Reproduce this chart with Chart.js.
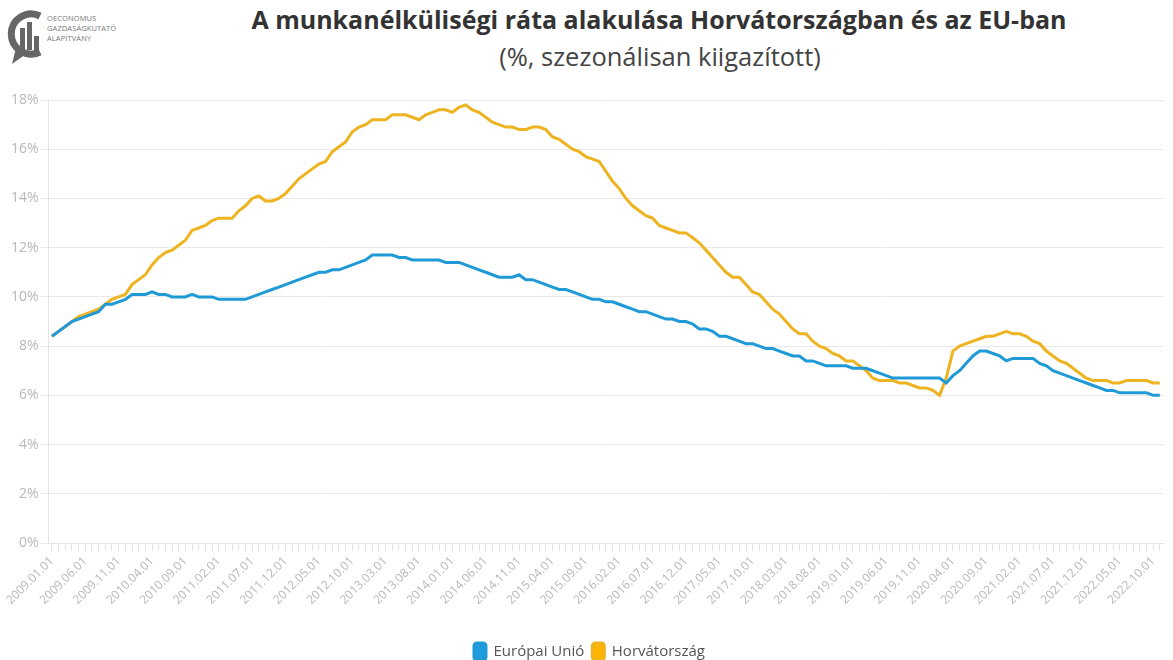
<!DOCTYPE html>
<html>
<head>
<meta charset="utf-8">
<script src="https://cdn.jsdelivr.net/npm/chart.js@4"></script>
<style>
  html, body { margin: 0; padding: 0; background: #fff; }
  body { width: 1173px; height: 660px; position: relative; overflow: hidden; font-family: "Open Sans", sans-serif; }
  .logo { position: absolute; left: 6px; top: 6px; width: 140px; height: 60px; }
  .logo-text { position: absolute; left: 47px; top: 13px; font-size: 7.5px; line-height: 10px; color: #777; letter-spacing: 0.1px; }
  .title { position: absolute; left: 0; width: 1318px; top: 2px; text-align: center; font-weight: 700; font-size: 25px; color: #333; white-space: nowrap; }
  .subtitle { position: absolute; left: 0; width: 1320px; top: 39px; text-align: center; font-size: 25.5px; color: #444; white-space: nowrap; }
  .wrap { position: absolute; left: 0; top: 85px; width: 1173px; height: 585px; }
</style>
</head>
<body>
<svg class="logo" viewBox="0 0 140 60">
  <path d="M34 10 A20 20 0 1 0 34 46" fill="none" stroke="#666" stroke-width="7"/>
  <path d="M10 42 L6 58 L20 48 Z" fill="#666"/>
  <rect x="14" y="22" width="5" height="22" fill="#666"/>
  <rect x="21" y="16" width="5" height="28" fill="#666"/>
  <rect x="28" y="30" width="5" height="14" fill="#666"/>
</svg>
<div class="logo-text">OECONOMUS<br>GAZDASÁGKUTATÓ<br>ALAPÍTVÁNY</div>
<div class="title">A munkanélküliségi ráta alakulása Horvátországban és az EU-ban</div>
<div class="subtitle">(%, szezonálisan kiigazított)</div>
<div class="wrap"><canvas id="myChart"></canvas></div>
<script>
// Hónapok: 2009.01 - 2022.11
const startYear = 2009;
const monthCount = 167;
const months = [];
for (let i = 0; i < monthCount; i++) {
    const y = startYear + Math.floor(i / 12);
    const m = (i % 12) + 1;
    months.push(y + '.' + (m < 10 ? '0' + m : m) + '.01');
}

const seriesNames = ['Európai Unió', 'Horvátország'];

// Európai Unió (%)
const euRate = [
    8.4, 8.6, 8.8, 9.0, 9.1, 9.2, 9.3, 9.4, 9.7, 9.7, 9.8, 9.9,
    10.1, 10.1, 10.1, 10.2, 10.1, 10.1, 10.0, 10.0, 10.0, 10.1, 10.0, 10.0,
    10.0, 9.9, 9.9, 9.9, 9.9, 9.9, 10.0, 10.1, 10.2, 10.3, 10.4, 10.5,
    10.6, 10.7, 10.8, 10.9, 11.0, 11.0, 11.1, 11.1, 11.2, 11.3, 11.4, 11.5,
    11.7, 11.7, 11.7, 11.7, 11.6, 11.6, 11.5, 11.5, 11.5, 11.5, 11.5, 11.4,
    11.4, 11.4, 11.3, 11.2, 11.1, 11.0, 10.9, 10.8, 10.8, 10.8, 10.9, 10.7,
    10.7, 10.6, 10.5, 10.4, 10.3, 10.3, 10.2, 10.1, 10.0, 9.9, 9.9, 9.8,
    9.8, 9.7, 9.6, 9.5, 9.4, 9.4, 9.3, 9.2, 9.1, 9.1, 9.0, 9.0,
    8.9, 8.7, 8.7, 8.6, 8.4, 8.4, 8.3, 8.2, 8.1, 8.1, 8.0, 7.9,
    7.9, 7.8, 7.7, 7.6, 7.6, 7.4, 7.4, 7.3, 7.2, 7.2, 7.2, 7.2,
    7.1, 7.1, 7.1, 7.0, 6.9, 6.8, 6.7, 6.7, 6.7, 6.7, 6.7, 6.7,
    6.7, 6.7, 6.5, 6.8, 7.0, 7.3, 7.6, 7.8, 7.8, 7.7, 7.6, 7.4,
    7.5, 7.5, 7.5, 7.5, 7.3, 7.2, 7.0, 6.9, 6.8, 6.7, 6.6, 6.5,
    6.4, 6.3, 6.2, 6.2, 6.1, 6.1, 6.1, 6.1, 6.1, 6.0, 6.0
];

// Horvátország (%)
const hrRate = [
    8.4, 8.6, 8.8, 9.0, 9.2, 9.3, 9.4, 9.5, 9.7, 9.9, 10.0, 10.1,
    10.5, 10.7, 10.9, 11.3, 11.6, 11.8, 11.9, 12.1, 12.3, 12.7, 12.8, 12.9,
    13.1, 13.2, 13.2, 13.2, 13.5, 13.7, 14.0, 14.1, 13.9, 13.9, 14.0, 14.2,
    14.5, 14.8, 15.0, 15.2, 15.4, 15.5, 15.9, 16.1, 16.3, 16.7, 16.9, 17.0,
    17.2, 17.2, 17.2, 17.4, 17.4, 17.4, 17.3, 17.2, 17.4, 17.5, 17.6, 17.6,
    17.5, 17.7, 17.8, 17.6, 17.5, 17.3, 17.1, 17.0, 16.9, 16.9, 16.8, 16.8,
    16.9, 16.9, 16.8, 16.5, 16.4, 16.2, 16.0, 15.9, 15.7, 15.6, 15.5, 15.1,
    14.7, 14.4, 14.0, 13.7, 13.5, 13.3, 13.2, 12.9, 12.8, 12.7, 12.6, 12.6,
    12.4, 12.2, 11.9, 11.6, 11.3, 11.0, 10.8, 10.8, 10.5, 10.2, 10.1, 9.8,
    9.5, 9.3, 9.0, 8.7, 8.5, 8.5, 8.2, 8.0, 7.9, 7.7, 7.6, 7.4,
    7.4, 7.2, 7.0, 6.7, 6.6, 6.6, 6.6, 6.5, 6.5, 6.4, 6.3, 6.3,
    6.2, 6.0, 6.7, 7.8, 8.0, 8.1, 8.2, 8.3, 8.4, 8.4, 8.5, 8.6,
    8.5, 8.5, 8.4, 8.2, 8.1, 7.8, 7.6, 7.4, 7.3, 7.1, 6.9, 6.7,
    6.6, 6.6, 6.6, 6.5, 6.5, 6.6, 6.6, 6.6, 6.6, 6.5, 6.5
];

// y tengely
const yTicks = [0, 2, 4, 6, 8, 10, 12, 14, 16, 18];
const labelEvery = 5;

const ctx = document.getElementById('myChart').getContext('2d');

const data = {
    labels: months,
    datasets: [
        {
            label: seriesNames[0],
            data: euRate,
            borderColor: '#1f9ad6',
            backgroundColor: '#1f9be0',
            borderWidth: 3,
            pointRadius: 0,
            tension: 0
        },
        {
            label: seriesNames[1],
            data: hrRate,
            borderColor: '#eeb320',
            backgroundColor: '#ffb400',
            borderWidth: 3,
            pointRadius: 0,
            tension: 0
        }
    ]
};

const config = {
    type: 'line',
    data: data,
    options: {
        responsive: true,
        maintainAspectRatio: false,
        animation: false,
        layout: {
            padding: { left: 9, right: 3, top: 15, bottom: 0 }
        },
        plugins: {
            legend: {
                position: 'bottom',
                labels: {
                    boxWidth: 12,
                    boxHeight: 17,
                    useBorderRadius: true,
                    borderRadius: 3,
                    padding: 8,
                    color: '#555',
                    font: { family: 'Open Sans', size: 15 }
                }
            },
            tooltip: { enabled: false }
        },
        scales: {
            x: {
                offset: true,
                grid: {
                    offset: false,
                    drawOnChartArea: false,
                    drawTicks: true,
                    tickLength: 8,
                    color: '#e4e4e4'
                },
                border: { color: '#e4e4e4' },
                afterFit: function(scale) {
                    scale.height = 92;
                },
                ticks: {
                    autoSkip: false,
                    maxRotation: 45,
                    minRotation: 45,
                    color: '#b8b8b8',
                    font: { family: 'Open Sans', size: 12 },
                    callback: function(val, idx) {
                        return idx % labelEvery === 0 ? months[idx] : '';
                    }
                }
            },
            y: {
                min: yTicks[0],
                max: yTicks[yTicks.length - 1],
                grid: { color: '#e8e8e8', tickLength: 8 },
                border: { color: '#e4e4e4' },
                afterBuildTicks: function(axis) {
                    axis.ticks = yTicks.map(v => ({ value: v }));
                },
                ticks: {
                    color: '#b8b8b8',
                    padding: 2,
                    font: { family: 'Open Sans', size: 14 },
                    callback: function(v) { return v + '%'; }
                }
            }
        }
    }
};

const myChart = new Chart(ctx, config);
</script>
</body>
</html>
